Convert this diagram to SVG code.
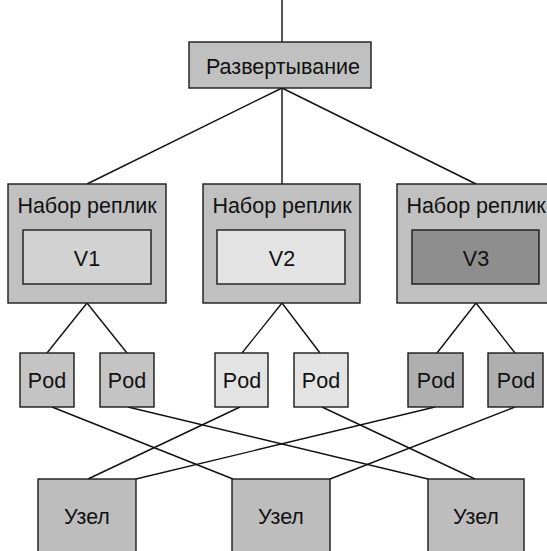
<svg xmlns="http://www.w3.org/2000/svg" width="547" height="551" viewBox="0 0 547 551">
<style>
rect{stroke:#1a1a1a;stroke-width:1.4}
text{font-family:"Liberation Sans",Arial,sans-serif;font-size:21.5px;fill:#111;text-anchor:middle}
.c line{stroke:#111;stroke-width:1.4}
.g{fill:#c0c0c0}
.v1{fill:#d2d2d2}
.v2{fill:#e3e3e3}
.v3{fill:#8e8e8e}
.p1{fill:#c4c4c4}
.p2{fill:#e3e3e3}
.p3{fill:#afafaf}
.n{fill:#bdbdbd}
</style>
<g class="c" id="connectors">
<line x1="282" y1="0" x2="282" y2="42"/>
<line x1="282" y1="88" x2="87" y2="184"/>
<line x1="282" y1="88" x2="282" y2="184"/>
<line x1="282" y1="88" x2="476" y2="184"/>
<line x1="87" y1="303" x2="47" y2="353"/>
<line x1="87" y1="303" x2="127" y2="353"/>
<line x1="282" y1="303" x2="242" y2="353"/>
<line x1="282" y1="303" x2="320" y2="353"/>
<line x1="476" y1="303" x2="437" y2="353"/>
<line x1="476" y1="303" x2="515" y2="353"/>
<line x1="52" y1="407" x2="233" y2="479"/>
<line x1="128" y1="407" x2="428" y2="479"/>
<line x1="240" y1="407" x2="88" y2="479"/>
<line x1="322" y1="407" x2="475" y2="479"/>
<line x1="435" y1="407" x2="136" y2="479"/>
<line x1="515" y1="407" x2="330" y2="479"/>
</g>
<g id="deployment"><rect class="g" x="189" y="42" width="182" height="46"/><text x="283" y="74">Развертывание</text></g>
<g id="rs1"><rect class="g" x="8" y="184" width="158" height="119"/><text x="87" y="213">Набор реплик</text><rect class="v1" x="23" y="230" width="128" height="54"/><text x="87" y="266">V1</text></g>
<g id="rs2"><rect class="g" x="203" y="184" width="157" height="119"/><text x="282" y="213">Набор реплик</text><rect class="v2" x="217" y="230" width="128" height="54"/><text x="282" y="266">V2</text></g>
<g id="rs3"><rect class="g" x="397" y="184" width="158" height="119"/><text x="476" y="213">Набор реплик</text><rect class="v3" x="412" y="230" width="127" height="54"/><text x="476" y="266">V3</text></g>
<g id="pod1"><rect class="p1" x="20" y="353" width="54" height="54"/><text x="47" y="388">Pod</text></g>
<g id="pod2"><rect class="p1" x="100" y="353" width="54" height="54"/><text x="127" y="388">Pod</text></g>
<g id="pod3"><rect class="p2" x="215" y="353" width="53" height="54"/><text x="242" y="388">Pod</text></g>
<g id="pod4"><rect class="p2" x="294" y="353" width="54" height="54"/><text x="321" y="388">Pod</text></g>
<g id="pod5"><rect class="p3" x="408" y="353" width="55" height="54"/><text x="436" y="388">Pod</text></g>
<g id="pod6"><rect class="p3" x="488" y="353" width="55" height="54"/><text x="516" y="388">Pod</text></g>
<g id="node1"><rect class="n" x="38" y="479" width="98" height="80"/><text x="87" y="524">Узел</text></g>
<g id="node2"><rect class="n" x="232" y="479" width="98" height="80"/><text x="281" y="524">Узел</text></g>
<g id="node3"><rect class="n" x="428" y="479" width="96" height="80"/><text x="476" y="524">Узел</text></g>
</svg>
